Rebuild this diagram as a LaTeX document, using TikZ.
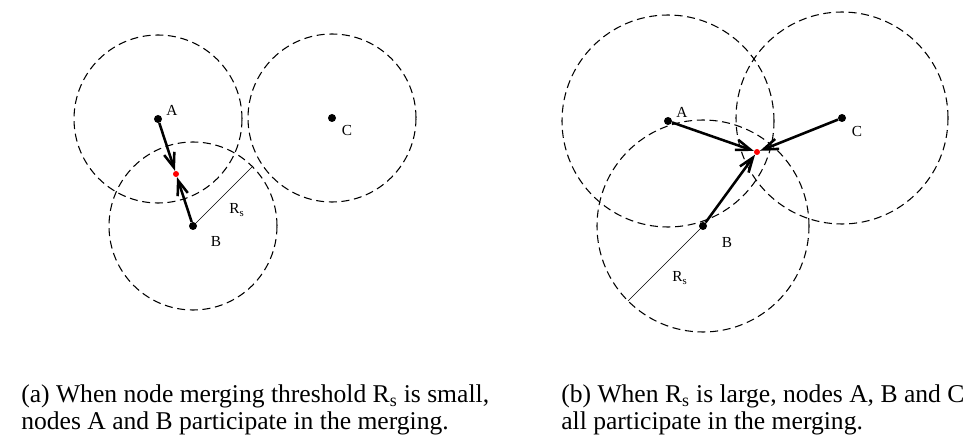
\documentclass[tikz,border=0pt]{standalone}
\usepackage{fontspec}
\setmainfont{Liberation Serif}
\usetikzlibrary{arrows.meta,backgrounds}

\tikzset{
  dot/.style={circle,fill=black,inner sep=0pt,minimum size=6pt},
  mergedot/.style={circle,fill=red,inner sep=0pt,minimum size=4.5pt},
  rangecircle/.style={dash pattern=on 6pt off 3.5pt,line width=0.8pt},
  move/.style={line width=1.9pt,-{Straight Barb[length=11pt,width=8pt]}},
  radius line/.style={line width=0.5pt},
  lbl/.style={font=\fontsize{11.5}{13}\selectfont,inner sep=0pt},
  captiontext/.style={font=\fontsize{19.2}{20}\selectfont,align=left,anchor=base west,inner sep=0pt}
}

\begin{document}
\begin{tikzpicture}[x=0.75pt,y=-0.75pt]
\useasboundingbox (0,0) rectangle (971,438);

% (a) small threshold
\node (aA) [dot] at (158,119) {};
\node (aB) [dot] at (193,226) {};
\node (aC) [dot] at (332,118) {};
\node (aM) [mergedot] at (176,174) {};
\node (aAl) [lbl] at (172,110) {A};
\node (aBl) [lbl] at (216,242) {B};
\node (aCl) [lbl] at (347,131) {C};
\path (aB) ++(45:63pt) coordinate (aR);
\node (aRl) [lbl] at (237,210) {R\textsubscript{s}};

\begin{scope}[on background layer]
\draw[rangecircle] (aA) circle[radius=63pt];
\draw[rangecircle] (aB) circle[radius=63pt];
\draw[rangecircle] (aC) circle[radius=63pt];
\end{scope}
\draw[radius line] (aB) -- (aR);
\draw[move] (aA) -- (aM);
\draw[move] (aB) -- (aM);

% (b) large threshold
\node (bA) [dot] at (668,121) {};
\node (bB) [dot] at (703,226) {};
\node (bC) [dot] at (842,118) {};
\node (bM) [mergedot] at (757,152) {};
\node (bAl) [lbl] at (682,112) {A};
\node (bBl) [lbl] at (727,243) {B};
\node (bCl) [lbl] at (857,132) {C};
\path (bB) ++(225:79.5pt) coordinate (bR);
\node (bRl) [lbl] at (680,278) {R\textsubscript{s}};

\begin{scope}[on background layer]
\draw[rangecircle] (bA) circle[radius=79.5pt];
\draw[rangecircle] (bB) circle[radius=79.5pt];
\draw[rangecircle] (bC) circle[radius=79.5pt];
\end{scope}
\draw[radius line] (bB) -- (bR);
\draw[move] (bA) -- (bM);
\draw[move] (bB) -- (bM);
\draw[move] (bC) -- (bM);

% captions
\node (capa) [captiontext] at (21,429) {(a) When node merging threshold R\textsubscript{s} is small,\\nodes A and B participate in the merging.};
\node (capb) [captiontext] at (561,429) {(b) When R\textsubscript{s} is large, nodes A, B and C\\all participate in the merging.};
\end{tikzpicture}
\end{document}
